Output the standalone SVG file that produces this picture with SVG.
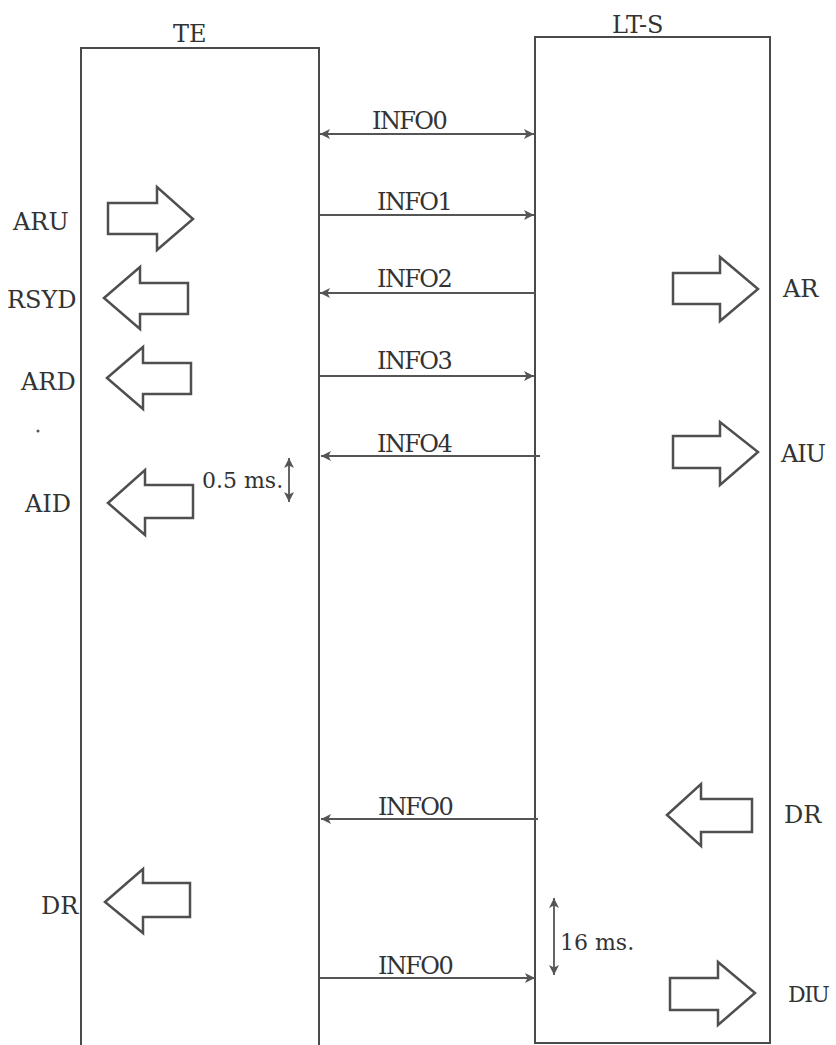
<svg xmlns="http://www.w3.org/2000/svg" width="836" height="1045" viewBox="0 0 836 1045">
<defs>
<style>
.box{fill:none;stroke:#4a4a4a;stroke-width:2}
.blk{fill:#fff;stroke:#4f4f4f;stroke-width:2.5;stroke-linejoin:miter}
.msg{fill:none;stroke:#555;stroke-width:1.8}
.lbl{font-family:"DejaVu Serif",serif;font-size:24px;fill:#333}
.inf{font-family:"DejaVu Serif",serif;font-size:24px;fill:#333;letter-spacing:-1.6px}
.sm{font-family:"DejaVu Serif",serif;font-size:22px;fill:#333}
</style>
<marker id="ah" viewBox="0 0 10 10" refX="10" refY="5" markerWidth="11" markerHeight="10" markerUnits="userSpaceOnUse" orient="auto-start-reverse">
<path d="M0,0 L10,5 L0,10 L2.5,5 z" fill="#555"/>
</marker>
</defs>
<rect width="836" height="1045" fill="#fff"/>
<g id="TE">
<path class="box" d="M81,1045 V48 H319 V1045"/>
<text class="lbl" x="173" y="42">TE</text>
</g>
<g id="LT-S">
<path class="box" d="M535,1043 V37 H770 V1043 Z"/>
<text class="lbl" x="612" y="33">LT-S</text>
</g>
<g id="ARU">
<polygon class="blk" points="108,203 157,203 157,187 193,219 157,250 157,234 108,234"/>
<text class="lbl" x="13" y="230">ARU</text>
</g>
<g id="RSYD">
<polygon class="blk" points="104,298 140,267 140,283 188,283 188,314 140,314 140,329"/>
<text class="lbl" x="7" y="308">RSYD</text>
</g>
<g id="ARD">
<polygon class="blk" points="107,378 143,347 143,363 191,363 191,394 143,394 143,409"/>
<text class="lbl" x="21" y="390">ARD</text>
</g>
<circle cx="38" cy="431" r="1.5" fill="#555"/>
<g id="AID">
<polygon class="blk" points="108,503 145,470 145,485 193,485 193,518 145,518 145,535"/>
<text class="lbl" x="25" y="512">AID</text>
</g>
<g id="DR-TE">
<polygon class="blk" points="105,902 143,869 143,883 190,883 190,917 143,917 143,933"/>
<text class="lbl" x="41" y="914">DR</text>
</g>
<g id="AR">
<polygon class="blk" points="673,273 720,273 720,257 758,289 720,321 720,304 673,304"/>
<text class="lbl" x="783" y="297">AR</text>
</g>
<g id="AIU">
<polygon class="blk" points="673,436 720,436 720,422 758,452 720,485 720,468 673,468"/>
<text class="lbl" x="781" y="462" style="letter-spacing:-1px">AIU</text>
</g>
<g id="DR-LT">
<polygon class="blk" points="667,815 701,784 701,799 752,799 752,832 701,832 701,846"/>
<text class="lbl" x="784" y="823">DR</text>
</g>
<g id="DIU">
<polygon class="blk" points="670,978 718,978 718,962 755,993 718,1025 718,1010 670,1010"/>
<text class="lbl" x="788" y="1002" style="font-size:22px;letter-spacing:-1.5px">DIU</text>
</g>
<g id="connectors">
<line class="msg" x1="320" y1="134" x2="534" y2="134" marker-start="url(#ah)" marker-end="url(#ah)"/>
<line class="msg" x1="320" y1="215" x2="534" y2="215" marker-end="url(#ah)"/>
<line class="msg" x1="535" y1="293" x2="320" y2="293" marker-end="url(#ah)"/>
<line class="msg" x1="320" y1="376" x2="534" y2="376" marker-end="url(#ah)"/>
<line class="msg" x1="540" y1="456" x2="321" y2="456" marker-end="url(#ah)"/>
<line class="msg" x1="538" y1="819" x2="321" y2="819" marker-end="url(#ah)"/>
<line class="msg" x1="320" y1="978" x2="535" y2="978" marker-end="url(#ah)"/>
<line class="msg" x1="289" y1="458" x2="289" y2="502" marker-start="url(#ah)" marker-end="url(#ah)"/>
<line class="msg" x1="554" y1="898" x2="554" y2="975" marker-start="url(#ah)" marker-end="url(#ah)"/>
</g>
<g id="labels">
<text class="inf" x="372" y="129">INFO0</text>
<text class="inf" x="377" y="210">INFO1</text>
<text class="inf" x="377" y="287">INFO2</text>
<text class="inf" x="377" y="369">INFO3</text>
<text class="inf" x="377" y="452">INFO4</text>
<text class="inf" x="378" y="815">INFO0</text>
<text class="inf" x="378" y="974">INFO0</text>
<text class="sm" x="202" y="488">0.5 ms.</text>
<text class="sm" x="560" y="950">16 ms.</text>
</g>
</svg>
